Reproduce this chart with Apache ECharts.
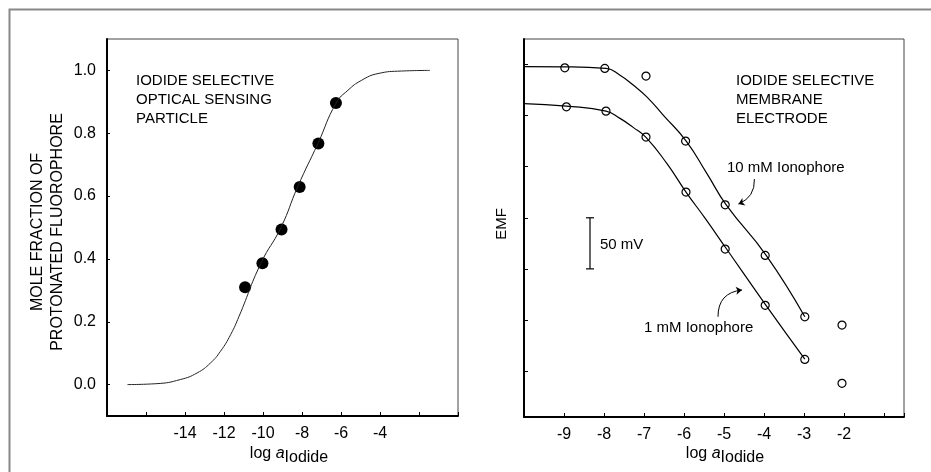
<!DOCTYPE html>
<html>
<head>
<meta charset="utf-8">
<script src="https://cdn.jsdelivr.net/npm/echarts@6/dist/echarts.min.js"></script>
<style>
  html, body { margin: 0; padding: 0; background: #fff; }
  #main { width: 931px; height: 472px; }
</style>
</head>
<body>
<div id="main"></div>
<script>
// left panel: optical sensing particle
var leftDotsX = [-10.92, -10.03, -9.05, -8.12, -7.16, -6.26];
var leftDotsY = [0.310, 0.386, 0.494, 0.629, 0.767, 0.896];
var leftCurveX = [-16.95, -15.44, -14.24, -13.38, -12.69, -12.18, -11.66, -11.23, -10.11, -9.08, -8.22, -7.18, -6.25, -5.64, -4.96, -4.10, -2.90, -1.44];
var leftCurveY = [0.000, 0.003, 0.016, 0.037, 0.069, 0.106, 0.159, 0.217, 0.386, 0.500, 0.630, 0.768, 0.896, 0.937, 0.968, 0.990, 0.998, 1.000];
var leftXLabels = [-14, -12, -10, -8, -6, -4];
var leftYLabels = [0, 0.2, 0.4, 0.6, 0.8, 1.0];

// right panel: membrane electrode (EMF in mV)
var x10 = [-8.98, -7.98, -6.95, -5.96, -4.97, -3.97, -2.98, -2.05];
var emf10 = [296.8, 296.2, 288.7, 225.1, 162.7, 113.2, 53.1, 45.0];
var x1 = [-8.94, -7.95, -6.95, -5.95, -4.97, -3.97, -2.98, -2.05];
var emf1 = [258.6, 254.4, 229.0, 175.2, 119.4, 64.3, 11.4, -12.0];
var fit10X = [-10, -8.98, -7.95, -7.60, -7.27, -6.93, -6.52, -5.95, -5.43, -4.94, -3.95, -2.98];
var fit10Y = [298.0, 297.8, 296.2, 289.6, 279.9, 268.4, 250.5, 225.3, 193.5, 162.4, 113.5, 53.1];
var fit1X = [-10, -8.94, -7.95, -7.60, -7.27, -6.95, -6.43, -5.95, -5.47, -4.94, -3.95, -2.98];
var fit1Y = [261.8, 259.3, 254.4, 247.3, 238.5, 228.7, 203.2, 175.2, 149.4, 119.7, 64.3, 11.7];
var rightXLabels = [-9, -8, -7, -6, -5, -4, -3, -2];
var rightYTicks = [0, 50, 100, 150, 200, 250, 300];
var scaleBar = [[-8.35, 100], [-8.35, 150]];
var arrow10 = [[-4.24, 187.9], [-4.64, 163.4]];
var arrow1 = [[-5.15, 53.1], [-4.55, 79.3]];

function zip(a, b) {
  return a.map(function (v, i) { return [v, b[i]]; });
}

var FONT = 'Liberation Sans, Arial, sans-serif';
var dom = document.getElementById('main');
var myChart = echarts.init(dom);

var axisCommon = {
  axisLine: { onZero: false, lineStyle: { color: '#000', width: 2 } },
  axisTick: { inside: true, length: 4, lineStyle: { color: '#000' } },
  splitLine: { show: false },
  axisLabel: { color: '#000', fontSize: 16, fontFamily: FONT }
};

function titleText(x) {
  return {
    type: 'text', x: x, y: 456,
    style: {
      text: '{n|log }{i|a}{s|Iodide}',
      align: 'center', verticalAlign: 'middle',
      fill: '#000',
      rich: {
        n: { fontSize: 16, fontFamily: FONT, lineHeight: 16, verticalAlign: 'top' },
        i: { fontSize: 16, fontFamily: FONT, fontStyle: 'italic', lineHeight: 16, verticalAlign: 'top' },
        s: { fontSize: 16, fontFamily: FONT, lineHeight: 20, verticalAlign: 'bottom' }
      }
    }
  };
}

option = {
  animation: false,
  grid: [
    { left: 107, top: 39, width: 351, height: 377, show: true, borderColor: '#444', borderWidth: 1 },
    { left: 524, top: 39, width: 380, height: 378, show: true, borderColor: '#444', borderWidth: 1 }
  ],
  xAxis: [
    echarts.util.merge({
      gridIndex: 0, type: 'value', min: -18, max: 0, interval: 2,
      axisLabel: { customValues: leftXLabels, margin: 10 }
    }, axisCommon),
    echarts.util.merge({
      gridIndex: 1, type: 'value', min: -10, max: -0.5, interval: 1,
      axisLabel: { customValues: rightXLabels, margin: 10 }
    }, axisCommon)
  ],
  yAxis: [
    echarts.util.merge({
      gridIndex: 0, type: 'value', min: -0.1, max: 1.1,
      axisTick: { customValues: leftYLabels, length: 3 },
      axisLabel: {
        customValues: leftYLabels, margin: 11,
        formatter: function (v) { return v.toFixed(1); }
      }
    }, axisCommon),
    echarts.util.merge({
      gridIndex: 1, type: 'value', min: -45, max: 325,
      axisTick: { customValues: rightYTicks },
      axisLabel: { show: false }
    }, axisCommon)
  ],
  series: [
    {
      type: 'line', xAxisIndex: 0, yAxisIndex: 0,
      data: zip(leftCurveX, leftCurveY),
      smooth: 0.5, showSymbol: false,
      lineStyle: { color: '#222', width: 1 }
    },
    {
      type: 'scatter', xAxisIndex: 0, yAxisIndex: 0,
      data: zip(leftDotsX, leftDotsY),
      symbolSize: 12,
      itemStyle: { color: '#000', opacity: 1 }
    },
    {
      type: 'line', xAxisIndex: 1, yAxisIndex: 1,
      data: zip(fit10X, fit10Y),
      smooth: 0.5, showSymbol: false,
      lineStyle: { color: '#000', width: 1.2 }
    },
    {
      type: 'line', xAxisIndex: 1, yAxisIndex: 1,
      data: zip(fit1X, fit1Y),
      smooth: 0.5, showSymbol: false,
      lineStyle: { color: '#000', width: 1.2 }
    },
    {
      type: 'scatter', xAxisIndex: 1, yAxisIndex: 1,
      data: zip(x10, emf10),
      symbolSize: 8,
      itemStyle: { color: '#fff', borderColor: '#000', borderWidth: 1.2, opacity: 1 }
    },
    {
      type: 'scatter', xAxisIndex: 1, yAxisIndex: 1,
      data: zip(x1, emf1),
      symbolSize: 8,
      itemStyle: { color: '#fff', borderColor: '#000', borderWidth: 1.2, opacity: 1 }
    },
    {
      // 50 mV scale bar
      type: 'line', xAxisIndex: 1, yAxisIndex: 1,
      data: scaleBar,
      symbol: 'rect', symbolSize: [8, 1.2], showSymbol: true,
      itemStyle: { color: '#000' },
      lineStyle: { color: '#000', width: 1.2 }
    },
    {
      type: 'lines', coordinateSystem: 'cartesian2d', xAxisIndex: 1, yAxisIndex: 1,
      symbol: ['none', 'arrow'], symbolSize: 6,
      lineStyle: { color: '#000', width: 1, curveness: 0.35, opacity: 1 },
      data: [{ coords: arrow10 }]
    },
    {
      type: 'lines', coordinateSystem: 'cartesian2d', xAxisIndex: 1, yAxisIndex: 1,
      symbol: ['none', 'arrow'], symbolSize: 6,
      lineStyle: { color: '#000', width: 1, curveness: 0.45, opacity: 1 },
      data: [{ coords: arrow1 }]
    }
  ],
  graphic: [
    {
      type: 'rect', silent: true,
      shape: { x: 9.5, y: 9.5, width: 1000, height: 1000 },
      style: { fill: 'none', stroke: '#888', lineWidth: 2 }
    },
    {
      type: 'text', x: 136, y: 72,
      style: { text: 'IODIDE SELECTIVE\nOPTICAL SENSING\nPARTICLE', font: '15px ' + FONT, lineHeight: 18.7, fill: '#000', verticalAlign: 'top' }
    },
    {
      type: 'text', x: 736, y: 72,
      style: { text: 'IODIDE SELECTIVE\nMEMBRANE\nELECTRODE', font: '15px ' + FONT, lineHeight: 18.7, fill: '#000', verticalAlign: 'top' }
    },
    {
      type: 'text', x: 727, y: 168,
      style: { text: '10 mM Ionophore', font: '15px ' + FONT, fill: '#000', verticalAlign: 'middle' }
    },
    {
      type: 'text', x: 644, y: 328,
      style: { text: '1 mM Ionophore', font: '15px ' + FONT, fill: '#000', verticalAlign: 'middle' }
    },
    {
      type: 'text', x: 600, y: 245,
      style: { text: '50 mV', font: '15px ' + FONT, fill: '#000', verticalAlign: 'middle' }
    },
    {
      type: 'text', x: 48, y: 232, rotation: Math.PI / 2,
      style: { text: 'MOLE FRACTION OF\nPROTONATED FLUOROPHORE', font: '16px ' + FONT, lineHeight: 20, fill: '#000', align: 'center', verticalAlign: 'middle' }
    },
    {
      type: 'text', x: 502, y: 224, rotation: Math.PI / 2,
      style: { text: 'EMF', font: '15px ' + FONT, fill: '#000', align: 'center', verticalAlign: 'middle' }
    },
    titleText(289),
    titleText(725)
  ]
};

if (option && typeof option === 'object') {
  myChart.setOption(option);
}
</script>
</body>
</html>
